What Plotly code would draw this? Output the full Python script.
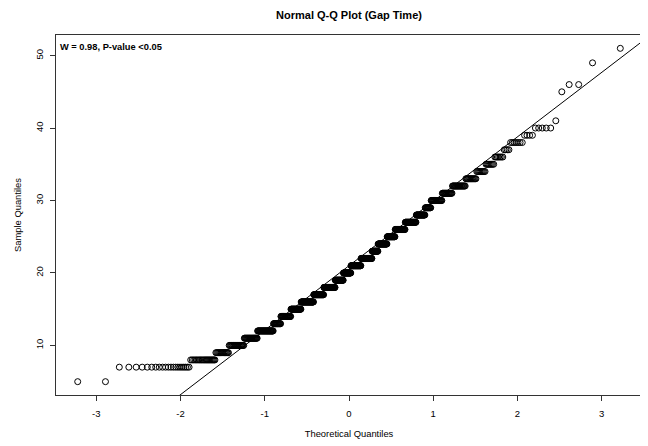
import plotly.graph_objects as go
from statistics import NormalDist

# Sample values (Gap Time) and how many observations take each value
values = [5, 7, 8, 9, 10, 11, 12, 13, 14, 15, 16, 17, 18, 19, 20, 21, 22, 23, 24, 25,
          26, 27, 28, 29, 30, 31, 32, 33, 34, 35, 36, 37, 38, 39, 40, 41, 45, 46, 49, 51]
counts = [2, 21, 21, 16, 23, 25, 36, 19, 28, 31, 41, 35, 41, 30, 28, 37, 40, 21, 31, 26,
          31, 31, 23, 14, 24, 19, 21, 14, 10, 8, 7, 4, 7, 4, 5, 1, 1, 2, 1, 1]
x_ticks = [-3, -2, -1, 0, 1, 2, 3]
y_ticks = [10, 20, 30, 40, 50]
title_text = "Normal Q-Q Plot (Gap Time)"
stat_text = "W = 0.98, P-value <0.05"

# expand to sorted sample
sample = []
for v, c in zip(values, counts):
    sample += [v] * c
n = len(sample)
nd = NormalDist()
a = 3 / 8 if n <= 10 else 0.5
theo = [nd.inv_cdf((i + 1 - a) / (n + 1 - 2 * a)) for i in range(n)]

def quantile7(data, p):
    h = (len(data) - 1) * p
    lo = int(h)
    hi = min(lo + 1, len(data) - 1)
    return data[lo] + (h - lo) * (data[hi] - data[lo])

q1, q3 = quantile7(sample, 0.25), quantile7(sample, 0.75)
z1, z3 = nd.inv_cdf(0.25), nd.inv_cdf(0.75)
slope = (q3 - q1) / (z3 - z1)
intercept = q1 - slope * z1

def rng(vals):
    lo, hi = min(vals), max(vals)
    d = (hi - lo) * 0.04
    return [lo - d, hi + d]

xr = rng(theo)
yr = rng(sample)

fig = go.Figure()
fig.add_trace(go.Scatter(
    x=theo, y=sample, mode="markers",
    marker=dict(symbol="circle-open", size=6, color="black", line=dict(width=1, color="black")),
    showlegend=False, hoverinfo="skip"))
fig.add_trace(go.Scatter(
    x=xr, y=[intercept + slope * xv for xv in xr], mode="lines",
    line=dict(color="black", width=1), showlegend=False, hoverinfo="skip"))

font = "Liberation Sans, Arial, Helvetica, sans-serif"
W, H = 640, 438  # page body has an 8px margin
fig.update_layout(
    width=W, height=H,
    margin=dict(l=48, r=6, t=27, b=51),
    paper_bgcolor="white", plot_bgcolor="white",
    font=dict(family=font, size=9, color="black"),
    title=dict(text="<b>" + title_text + "</b>", x=0.5, xref="paper", xanchor="center",
               y=1 - 7 / H, yref="container", yanchor="middle",
               font=dict(size=11, family=font, color="black")),
    xaxis=dict(range=xr, tickvals=x_ticks, ticktext=[str(t) for t in x_ticks],
               showgrid=False, zeroline=False, showline=True, mirror=True,
               linecolor="#333333", linewidth=1, ticks="outside", ticklen=5,
               tickcolor="#333333", tickfont=dict(size=9.5, color="black"),
               ticklabelstandoff=5,
               title=dict(text="Theoretical Quantiles", font=dict(size=9.4, color="black"), standoff=12),
               automargin=False),
    yaxis=dict(range=yr, tickvals=y_ticks, ticktext=[str(t) for t in y_ticks],
               showgrid=False, zeroline=False, showline=True, mirror=True,
               linecolor="#333333", linewidth=1, ticks="outside", ticklen=5,
               tickcolor="#333333", tickangle=-90, tickfont=dict(size=9.5, color="black"),
               ticklabelstandoff=3,
               title=dict(text="Sample Quantiles", font=dict(size=9.4, color="black"), standoff=10),
               automargin=False),
    annotations=[dict(text="<b>" + stat_text + "</b>", xref="paper", yref="paper",
                      x=0.004, y=0.985, xanchor="left", yanchor="top", showarrow=False,
                      font=dict(size=9.3, family=font, color="black"))],
)
fig.write_html("out.html")
